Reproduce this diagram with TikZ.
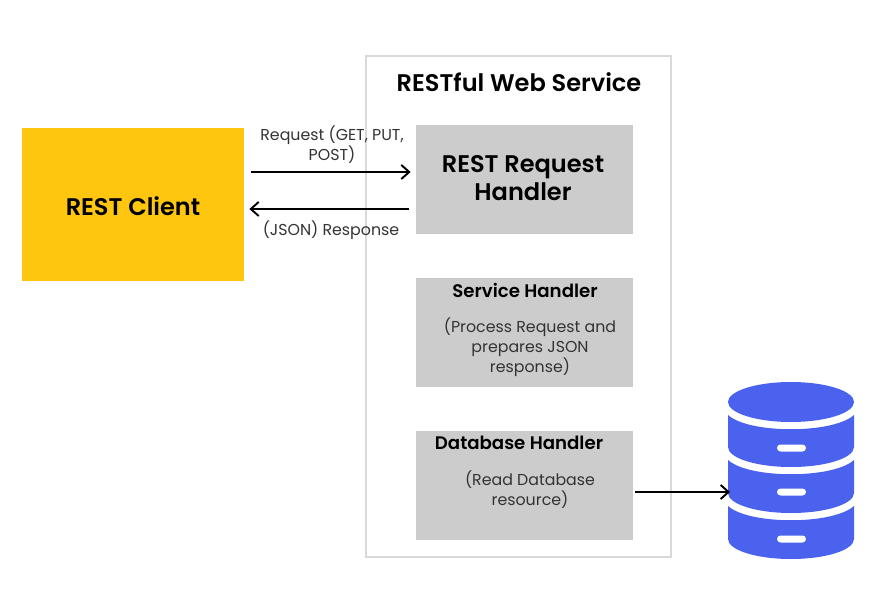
\documentclass[tikz,border=0pt]{standalone}
\usepackage{fontspec}
\usetikzlibrary{arrows.meta, shapes.geometric}
\setmainfont[BoldFont={Poppins SemiBold}]{Poppins}
\definecolor{clientyellow}{HTML}{FEC60E}
\definecolor{handlergray}{HTML}{CCCCCC}
\definecolor{framegray}{HTML}{D9D9D9}
\definecolor{dbblue}{HTML}{4A62EE}
\definecolor{labelgray}{HTML}{333333}
\begin{document}
\begin{tikzpicture}[
  x=0.02cm, y=-0.02cm,
  handler/.style={fill=handlergray, inner sep=0pt, minimum width=217*0.02cm, minimum height=109*0.02cm},
  title/.style={font=\fontsize{13.7}{16}\selectfont\bfseries, text=black, align=center, inner sep=0pt},
  subtitle/.style={font=\fontsize{10.35}{12}\selectfont\bfseries, text=black, align=center, inner sep=0pt},
  note/.style={font=\fontsize{9}{11.34}\selectfont, text=labelgray, align=center, inner sep=0pt},
  link/.style={-{Straight Barb[length=4.5pt,width=8pt]}, line width=1.1pt, black}
]
\useasboundingbox (0,0) rectangle (892,594);

% Web service frame
\node[draw=framegray, line width=1.2pt, inner sep=0pt, minimum width=305*0.02cm, minimum height=501*0.02cm] (service) at (518.5,306.5) {};
\node[title] (servicetitle) at (519,82) {RESTful Web Service};

% Client
\node[fill=clientyellow, inner sep=0pt, minimum width=222*0.02cm, minimum height=153*0.02cm] (client) at (133,204.5) {};
\node[title] (clienttitle) at (133,206) {REST Client};

% Handlers
\node[handler] (request) at (524.5,179.5) {};
\node[title] (requesttitle) at (523,178) {REST Request\\Handler};

\node[handler] (logic) at (524.5,332.5) {};
\node[subtitle] (logictitle) at (525,290) {Service Handler};
\node[note] (logicnote) at (530,347) {(Process Request and\\prepares JSON\\response)};

\node[handler] (dbhandler) at (524.5,485.5) {};
\node[subtitle] (dbtitle) at (519,443) {Database Handler};
\node[note] (dbnote) at (530,490) {(Read Database\\resource)};

% Database
\foreach \t/\b/\s in {415/447/448, 460/493/492, 506/539/539} {
  \fill[dbblue] (728,\t) .. controls (749,\t+19) and (833,\t+19) .. (854,\t) -- (854,\b)
    .. controls (854,\b+11) and (826,\b+20) .. (791,\b+20) .. controls (756,\b+20) and (728,\b+11) .. (728,\b) -- cycle;
  \fill[white, rounded corners=0.07cm] (777,\s-3.5) rectangle (806,\s+3.5);
}
\node[ellipse, fill=dbblue, inner sep=0pt, minimum width=126*0.02cm, minimum height=40*0.02cm] (database) at (791,402) {};
\coordinate (dbport) at (730,492);

% Arrows
\coordinate (reqstart) at (251,172);
\coordinate (respstart) at (409,209);
\draw[link, shorten >=5*0.02cm] (reqstart) -- (reqstart -| request.west);
\draw[link, shorten >=5*0.02cm] (respstart) -- (respstart -| client.east);
\draw[link, shorten <=2*0.02cm] (dbhandler.east |- dbport) -- (dbport);

% Arrow labels
\node[note] (reqlabel) at (332,145) {Request (GET, PUT,\\POST)};
\node[note] (resplabel) at (331,230) {(JSON) Response};

\end{tikzpicture}
\end{document}
